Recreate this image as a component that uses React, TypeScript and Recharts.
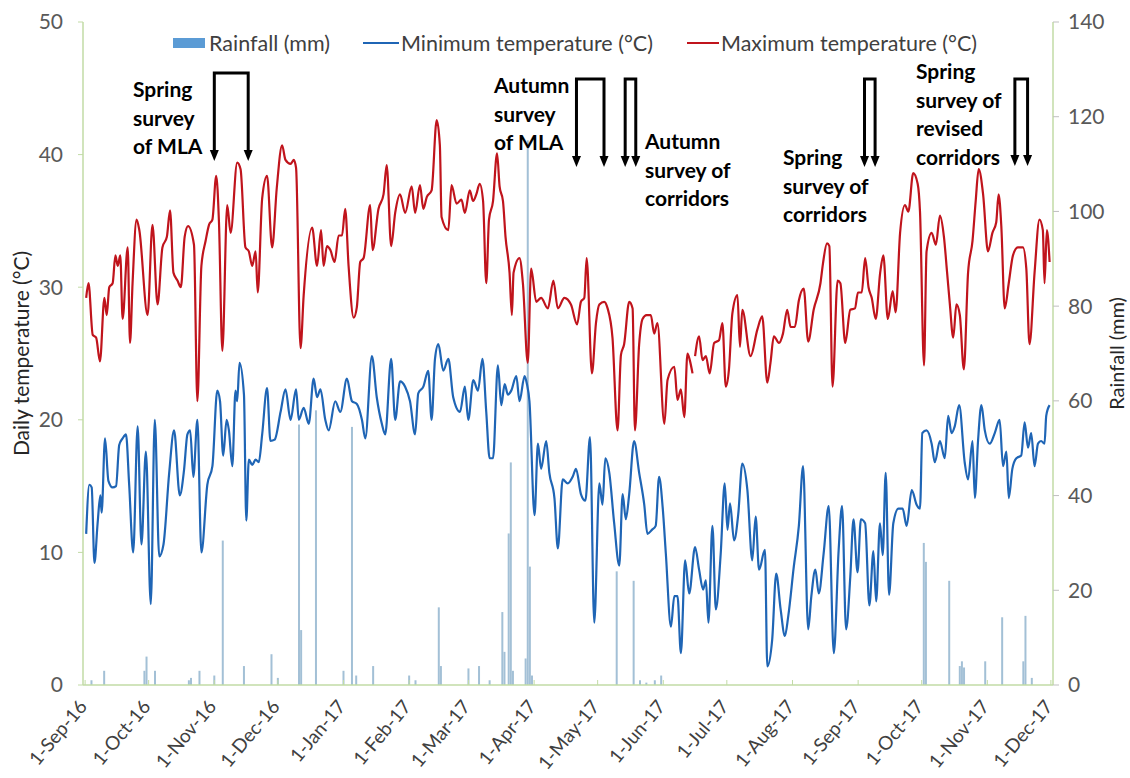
import { ComposedChart, Bar, Line, XAxis, YAxis } from "recharts";

const FONT = "Lato, 'Open Sans', sans-serif";
const AXIS_GREEN = "#c2dba6";
const MIN_BLUE = "#1f65b5";
const MAX_RED = "#c0141c";
const RAIN_FILL = "#a3c0d6";

// x axis = days since 1-Sep-16
const monthTicks = [0, 30, 61, 91, 122, 153, 181, 212, 242, 273, 303, 334, 365, 395, 426, 456];
const monthLabels = [
  "1-Sep-16", "1-Oct-16", "1-Nov-16", "1-Dec-16", "1-Jan-17", "1-Feb-17", "1-Mar-17", "1-Apr-17",
  "1-May-17", "1-Jun-17", "1-Jul-17", "1-Aug-17", "1-Sep-17", "1-Oct-17", "1-Nov-17", "1-Dec-17",
];
const tempTicks = [0, 10, 20, 30, 40, 50];
const rainTicks = [0, 20, 40, 60, 80, 100, 120, 140];

// [day, °C]
const maxTemp: [number, number | null][] = [
  [0.5, 29.2], [1.6, 30.3], [3.6, 26.4], [5.2, 26.2], [7, 24.4], [9.1, 29.2], [10.2, 27.9], [11.4, 30],
  [13, 30.3], [14.3, 32.4], [15.4, 31.6], [16.6, 32.4], [17.7, 27.6], [20.1, 33], [21.2, 25.8], [22.4, 30.3],
  [24.3, 35.1], [25.6, 34.3], [29.5, 27.9], [31.8, 34.7], [34.2, 28.7], [36.5, 33], [38.6, 33.8], [40.1, 35.8],
  [41.7, 31.1], [43.6, 30.5], [45.2, 30], [47, 33.8], [48.6, 34.6], [51.4, 33.2], [53, 21.4], [54.9, 31.6],
  [56.9, 33.5], [58.5, 34.7], [60.1, 35.1], [61.9, 38.4], [63.2, 34.9], [64.8, 25.2], [67.1, 36.2], [68.7, 34.1],
  [71.8, 39.4], [73.4, 38.9], [75.7, 33], [77.3, 32.7], [78.9, 31.6], [80.5, 32.7], [81.5, 29.6], [83.6, 36.7],
  [85.9, 38.4], [88.3, 33], [90.5, 37.5], [93, 40.7], [94.6, 39.6], [97, 39.3], [98.5, 39.6], [99.6, 39],
  [101.7, 25.4], [103.2, 29.4], [107.2, 34.5], [109.5, 31.6], [111.4, 34.3], [112.6, 31.6], [114.2, 33.1],
  [115.8, 32.8], [117.8, 31.9], [119.7, 33.9], [121.3, 33.9], [122.8, 35.9], [124.4, 31.6], [126.8, 27.7],
  [128.3, 28.5], [129.9, 31.9], [131.5, 32.2], [134.6, 36.2], [135.7, 32.8], [138.5, 35.9], [140.9, 37],
  [142.4, 39.2], [144.5, 33.1], [146.4, 35.6], [148.7, 37], [151.1, 35.6], [154.2, 37.6], [155.8, 35.6],
  [158.1, 37.7], [159.7, 35.9], [161.3, 36.8], [163.6, 37.3], [166, 42.6], [167.5, 40.7], [168.3, 35.3],
  [171.5, 34.3], [173, 37.7], [175.4, 36.3], [177.7, 36.6], [179.3, 35.6], [181.6, 37.3], [183.2, 36.5],
  [184.7, 37], [186.3, 37.8], [187.9, 36.5], [189.4, 30.3], [190.7, 35.1], [192.6, 36.5], [194.5, 40.1],
  [195.7, 37.6], [197.3, 36.5], [198.5, 33.8], [200.4, 31.1], [201.5, 27.9], [202.3, 31.1], [205.1, 32.2],
  [206.7, 30.3], [209, 24.3], [210.6, 31.4], [213, 28.9], [215.3, 29.2], [218.5, 28.4], [221.1, 30.5],
  [223.2, 28.4], [226.3, 29.2], [229.4, 28.7], [232.3, 27.2], [234.1, 28.9], [235.7, 29.2], [236.8, 32.2],
  [239.3, 23.5], [241.2, 27.3], [242.8, 28.7], [245.1, 28.9], [246.7, 28.4], [249, 26.2], [251.4, 19.2],
  [253, 24.9], [254.5, 25.7], [256.9, 28.9], [258.5, 28.4], [259.6, 19.2], [261.6, 25.7], [263.2, 27.6],
  [265.1, 27.9], [267.1, 27.9], [268.7, 26.5], [270.2, 27.3], [273.5, 19.7], [275, 23], [278.2, 24],
  [279.7, 21.5], [281.3, 22.3], [282.9, 20.2], [284.4, 25], [285.5, 24.5], [286.8, 23.5], [287.4, null],
  [288, 24.8], [289.9, 26.3], [291.5, 24.5], [293.1, 24.8], [294.9, 23.5], [297, 25.8], [299.3, 26],
  [300.9, 27.3], [302.5, 22.5], [304, 23.8], [305.6, 28], [308, 29.4], [309.2, 25.5], [310.3, 28.3],
  [314.2, 24.8], [317.4, 26.8], [319.7, 27.8], [322.1, 22.8], [323.6, 24.3], [325.2, 26.3], [327.6, 25.8],
  [329.5, 26.5], [331.5, 28.3], [333.1, 27], [335.1, 27], [337, 29], [339.3, 29.9], [341.4, 25.9], [344, 28.3],
  [347.2, 30.3], [348.4, 31.8], [350.3, 33.3], [351.4, 33.1], [352.9, 22.5], [355.3, 30.5], [356.6, 30.3],
  [358.9, 25.8], [361.3, 28.3], [363.5, 28.4], [364.9, 29.6], [366.7, 29.6], [368.3, 32.2], [369.9, 30],
  [371.4, 29.2], [373.3, 27.6], [375.4, 31.1], [376.9, 32.4], [379, 27.6], [381.3, 29.7], [382.7, 28.1],
  [384.8, 34.1], [387.1, 36.2], [388.7, 35.7], [391, 38.6], [393.1, 37.8], [394.2, 35.7], [396.1, 24.1],
  [397.3, 32.7], [399.7, 34.1], [401.7, 33.2], [403.6, 35.4], [405.5, 33.8], [407, 31.1], [408.3, 28.7],
  [409.9, 26.2], [411.4, 28.7], [413, 27.9], [414.9, 23.8], [416.9, 31.1], [419, 33.5], [420.5, 36.5],
  [421.9, 38.9], [424, 37], [426.3, 32.7], [428.4, 34.1], [430.2, 34.9], [431.3, 37], [432.6, 34.6],
  [434.2, 28.4], [436.1, 30.3], [438.1, 32.4], [440.4, 33], [442.8, 33], [444.4, 31.4], [445.9, 25.7],
  [448.3, 31.1], [450.6, 35.1], [452.2, 34.3], [453, 30.3], [454.1, 34.3], [455.4, 31.9],
];

const minTemp: [number, number][] = [
  [0.5, 11.4], [2, 15.1], [3.1, 14.9], [4.4, 9.2], [5.9, 12.2], [7.2, 14.3], [7.8, 13], [9.4, 18.6], [11, 15.4],
  [13, 14.9], [14.6, 15], [16.1, 18.1], [17.7, 18.6], [19.3, 18.9], [20.8, 15.1], [22.7, 10], [24.8, 19.5],
  [26.6, 10.6], [28.7, 17.6], [31, 6.1], [32.9, 20], [35, 9.7], [37, 10.6], [39.7, 16], [42, 19.2], [44.7, 14.3],
  [46.7, 16.2], [48.3, 18.9], [49.6, 19.2], [51.1, 15.7], [53, 20], [54.9, 10], [57.7, 15.1], [60.1, 16.5],
  [62.4, 22.2], [63.7, 21.4], [65.2, 17.3], [66.8, 20], [67.9, 19.2], [69.5, 16.5], [71, 22.2], [71.8, 21.4],
  [72.9, 24.3], [75, 21.9], [76.1, 12.4], [77.3, 17], [78.9, 16.6], [80.5, 17], [82, 16.8], [83.6, 18.9],
  [85.9, 22.4], [87.5, 18.4], [89.5, 18.5], [92.3, 20.6], [94.6, 22.3], [97, 20], [99.6, 22.3], [100.9, 20],
  [103.2, 20.9], [105.6, 19.7], [107.9, 23.1], [109.5, 21.7], [111.1, 22.3], [113.4, 20], [115, 19.2],
  [118.1, 21.4], [120.5, 20.6], [123.6, 23.1], [126, 21.4], [128.3, 21.2], [130.7, 20], [132.3, 18.6],
  [135.4, 24.8], [137.7, 21.7], [140.1, 19.7], [141.7, 18.9], [144.5, 24.6], [146.4, 20], [148.7, 22.9],
  [151.1, 22.5], [153.4, 21.4], [155.8, 18.9], [157.3, 22], [159.7, 22.5], [162, 23.7], [163.6, 20],
  [165.2, 24.6], [166.8, 25.7], [169.1, 23.7], [171.5, 24.6], [173.8, 21.7], [177, 20.6], [179.3, 22.5],
  [180.9, 20], [183.3, 23], [185.5, 22.2], [187.6, 24.6], [189.4, 20.6], [191, 17.1], [192.6, 17.1],
  [194.9, 24.1], [196.5, 21.1], [198.1, 22.7], [199.6, 21.9], [201.2, 22.2], [203.6, 23.3], [205.1, 21.4],
  [207.5, 23.3], [208.6, 22.7], [209.8, 21.4], [212.2, 12.8], [213.8, 18.2], [215.3, 16.3], [217.7, 18.4],
  [219.2, 16], [221.6, 14.1], [223.2, 10.3], [225.5, 15.5], [227.9, 15.2], [230.2, 15.7], [231.8, 16.3],
  [234.1, 14.4], [236.2, 13.9], [238.4, 18.7], [240.4, 4.7], [242.8, 15.2], [244.3, 13.6], [245.6, 17.1],
  [247.5, 16], [249.8, 12.2], [252.2, 9], [253.8, 14.4], [255.3, 12.5], [256.9, 14.4], [259.2, 18.4],
  [261.6, 16], [264, 13.6], [265.5, 11.4], [267.6, 11.7], [269.4, 12], [271, 15.7], [272.7, 13.4],
  [274.2, 9.9], [276.6, 4.4], [278.2, 6.7], [279.7, 6.7], [281.3, 2.4], [283.3, 9.4], [285.2, 6.9], [288, 10.4],
  [289.9, 8.7], [291.8, 7.2], [293.1, 7.9], [294.3, 4.7], [296.2, 12], [297.8, 5.7], [300.1, 9.9], [302, 15.2],
  [303.3, 11.7], [304.5, 13.7], [306.4, 10.9], [308.4, 12.9], [310.3, 16.7], [312.7, 14.7], [315, 9.4],
  [316.6, 12.7], [318.2, 8.7], [321, 10.2], [322.1, 1.4], [324.4, 3.4], [326.3, 8.4], [328.4, 5.7],
  [330.4, 3.7], [332, 5.2], [334.6, 8.9], [337, 12], [339, 16.5], [341.4, 4.2], [342.9, 6.7], [344.8, 8.7],
  [346.4, 6.9], [348.7, 9.9], [351.1, 13.5], [353.5, 2.4], [355.8, 10.2], [357.4, 13.5], [359.3, 4.2],
  [361.3, 8.2], [362.8, 12.5], [364.7, 8.5], [366.3, 12.5], [368.3, 12.2], [370.3, 6], [372.2, 10.1],
  [373.5, 6.3], [375.3, 12.2], [376.6, 9.8], [378, 16], [379.6, 6.8], [381.6, 12.2], [384, 13.3], [386, 13.3],
  [387.9, 12], [390.3, 14.7], [392.6, 13.6], [394.2, 13.3], [395.3, 19], [397.3, 19.2], [399.7, 18.2],
  [401.2, 16.8], [403.6, 18.4], [405.9, 17.1], [407.5, 20.3], [409.1, 19], [410.6, 19.5], [412.7, 21.1],
  [415.3, 16.8], [416.9, 15.5], [419, 18.4], [420.1, 14.1], [421.6, 18.4], [423.2, 21.1], [424.8, 19.2],
  [427.1, 18.2], [429.5, 19], [431.8, 20], [433.4, 16.5], [435, 17.6], [436.1, 14.1], [437.8, 16.3],
  [439.7, 17.1], [442, 17.3], [443.6, 19.8], [445.2, 17.9], [446.7, 19], [448.3, 16.5], [449.9, 18.2],
  [451.4, 18.4], [453, 18.2], [453.8, 20.3], [455.4, 21.1],
];

const rainDays = [
  3, 9, 28, 29, 33, 49, 50, 54, 61, 65, 75, 88, 91, 101, 102, 109, 122, 126, 128, 136, 153, 156, 167, 168,
  181, 186, 191, 197, 198, 200, 201, 202, 208, 209, 210, 211, 251, 259, 262, 265, 269, 272, 396, 397, 408,
  413, 414, 415, 425, 433, 443, 444, 447,
];
const rainMm = [
  1, 3, 3, 6, 3, 1, 1.5, 3, 2, 30.5, 4, 6.5, 1.5, 55, 11.6, 58, 3, 54.5, 2, 4, 2, 1, 16.4, 4,
  3.5, 4, 1, 15.4, 7, 32, 47, 3, 5.6, 115, 25, 2, 24, 22, 1, 0.5, 1, 2, 30, 26, 22,
  4, 5, 3.7, 5, 14.3, 5, 14.6, 1.5,
];

// survey brackets: arrow days + text block
const surveys = [
  { lines: ["Spring", "survey", "of MLA"], tx: 133, ty: 97, arrows: [61, 77], top: 73, tip: 161 },
  { lines: ["Autumn", "survey", "of MLA"], tx: 494, ty: 93, arrows: [232, 245], top: 79, tip: 167 },
  { lines: [], tx: 0, ty: 0, arrows: [255, 260], top: 79, tip: 167 },
  { lines: ["Autumn", "survey of", "corridors"], tx: 645, ty: 149, arrows: [], top: 0, tip: 0 },
  { lines: ["Spring", "survey of", "corridors"], tx: 783, ty: 165, arrows: [368, 373], top: 79, tip: 167 },
  { lines: ["Spring", "survey of", "revised", "corridors"], tx: 916, ty: 79, arrows: [439, 445], top: 79, tip: 166 },
];

const PLOT_LEFT = 83;
const PLOT_RIGHT = 1053;
const DAY_MIN = -1;
const DAY_MAX = 457;
const dayToX = (d: number) => PLOT_LEFT + ((d - DAY_MIN) / (DAY_MAX - DAY_MIN)) * (PLOT_RIGHT - PLOT_LEFT);

const rainRows = rainDays.map((d, i) => ({ d, r: rainMm[i] }));
const maxRows = maxTemp.map(([d, v]) => ({ d, v }));
const minRows = minTemp.map(([d, v]) => ({ d, v }));

function MonthTick({ x, y, payload }: any) {
  const i = monthTicks.indexOf(payload.value);
  return (
    <g transform={`translate(${x},${y})`}>
      <line x1={0} y1={0} x2={0} y2={-5} stroke={AXIS_GREEN} />
      <text
        transform="translate(3,22) rotate(-50)"
        textAnchor="end"
        fill="#404040"
        fontSize={19}
        fontFamily={FONT}
      >
        {monthLabels[i]}
      </text>
    </g>
  );
}

// thin rainfall column, centred on its day
function RainBar({ x, y, width, height }: any) {
  if (!height || height <= 0) return null;
  const cx = x + width / 2;
  return <rect x={cx - 1} y={y} width={2} height={height} fill={RAIN_FILL} />;
}

function Overlay() {
  return (
    <svg
      width={1130}
      height={778}
      style={{ position: "absolute", left: 0, top: 0, pointerEvents: "none" }}
    >
      {/* legend */}
      <g fontFamily={FONT} fontSize={21.5} fill="#404040">
        <rect x={173} y={38} width={32} height={10} fill="#5b9bd5" />
        <text x={209} y={51}>Rainfall (mm)</text>
        <line x1={363} x2={399} y1={43} y2={43} stroke={MIN_BLUE} strokeWidth={2} />
        <text x={401} y={51}>Minimum temperature (°C)</text>
        <line x1={687} x2={719} y1={43} y2={43} stroke={MAX_RED} strokeWidth={2} />
        <text x={721} y={51}>Maximum temperature (°C)</text>
      </g>
      {surveys.map((s, k) => (
        <g key={k}>
          {s.lines.map((t, j) => (
            <text key={j} x={s.tx} y={s.ty + j * 28.5} fontFamily={FONT} fontWeight={700} fontSize={21} fill="#000">
              {t}
            </text>
          ))}
          {s.arrows.length === 2 && (
            <g stroke="#000" strokeWidth={3} fill="none">
              <path
                d={`M${dayToX(s.arrows[0])},${s.tip - 9} L${dayToX(s.arrows[0])},${s.top} L${dayToX(s.arrows[1])},${s.top} L${dayToX(s.arrows[1])},${s.tip - 9}`}
              />
              {s.arrows.map((a, j) => (
                <path
                  key={j}
                  d={`M${dayToX(a) - 4.5},${s.tip - 11} L${dayToX(a) + 4.5},${s.tip - 11} L${dayToX(a)},${s.tip} z`}
                  fill="#000"
                  stroke="none"
                />
              ))}
            </g>
          )}
        </g>
      ))}
    </svg>
  );
}

export default function App() {
  return (
    <div style={{ position: "relative", width: 1130, height: 778, background: "#fff" }}>
      <style>{`body{margin:0}`}</style>
      <ComposedChart
        width={1130}
        height={778}
        data={rainRows}
        margin={{ top: 22, right: 0, bottom: 0, left: 0 }}
      >
        <XAxis
          dataKey="d"
          type="number"
          domain={[DAY_MIN, DAY_MAX]}
          ticks={monthTicks}
          interval={0}
          allowDataOverflow
          height={93}
          tickSize={0}
          tickMargin={0}
          tickLine={false}
          axisLine={{ stroke: AXIS_GREEN, strokeWidth: 1.5 }}
          tick={<MonthTick />}
        />
        <YAxis
          yAxisId="t"
          orientation="left"
          domain={[0, 50]}
          ticks={tempTicks}
          width={83}
          tickSize={5}
          tickMargin={15}
          tickLine={{ stroke: AXIS_GREEN }}
          axisLine={{ stroke: AXIS_GREEN, strokeWidth: 1.5 }}
          tick={{ fill: "#595959", fontSize: 21, fontFamily: FONT }}
          label={{
            content: ({ viewBox }: any) => (
              <text
                transform={`translate(${viewBox.x + 20},${viewBox.y + viewBox.height / 2}) rotate(-90)`}
                textAnchor="middle"
                dominantBaseline="central"
                fontSize={21}
                fontFamily={FONT}
                fill="#262626"
              >
                Daily temperature (°C)
              </text>
            ),
          }}
        />
        <YAxis
          yAxisId="r"
          orientation="right"
          domain={[0, 140]}
          ticks={rainTicks}
          width={77}
          tickSize={6}
          tickMargin={9}
          tickLine={{ stroke: "#bfbfbf" }}
          axisLine={{ stroke: AXIS_GREEN, strokeWidth: 1.5 }}
          tick={{ fill: "#595959", fontSize: 21, fontFamily: FONT, textAnchor: "start" }}
          label={{
            content: ({ viewBox }: any) => (
              <text
                transform={`translate(${viewBox.x + 63},${viewBox.y + viewBox.height / 2}) rotate(-90)`}
                textAnchor="middle"
                dominantBaseline="central"
                fontSize={20}
                fontFamily={FONT}
                fill="#262626"
              >
                Rainfall (mm)
              </text>
            ),
          }}
        />
        <Bar
          yAxisId="r"
          dataKey="r"
          fill={RAIN_FILL}
          barSize={2}
          shape={<RainBar />}
          isAnimationActive={false}
        />
        <Line
          yAxisId="t"
          data={minRows}
          dataKey="v"
          type="monotone"
          stroke={MIN_BLUE}
          strokeWidth={2.2}
          dot={false}
          isAnimationActive={false}
        />
        <Line
          yAxisId="t"
          data={maxRows}
          dataKey="v"
          type="monotone"
          stroke={MAX_RED}
          strokeWidth={2.2}
          dot={false}
          isAnimationActive={false}
        />
      </ComposedChart>
      <Overlay />
    </div>
  );
}
